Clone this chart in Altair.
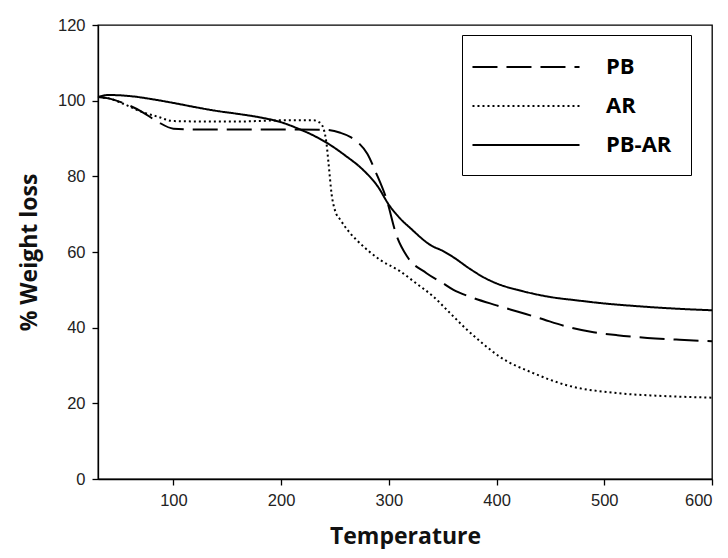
import altair as alt
import pandas as pd

# ---- data ----
pb_temp = [30, 40, 55, 70, 85, 100, 120, 150, 200, 240, 255, 265, 272, 280, 288, 298, 307, 317, 335, 350, 360, 375, 400, 420, 440, 465, 490, 512, 540, 570, 600]
pb_wl = [101.0, 100.6, 99.2, 97.2, 94.5, 92.6, 92.4, 92.4, 92.4, 92.3, 91.5, 90.3, 88.8, 86.0, 81.0, 73.8, 64.5, 58.8, 54.4, 51.8, 50.0, 48.2, 45.9, 44.2, 42.5, 40.3, 38.8, 38.0, 37.3, 36.8, 36.4]

ar_temp = [30, 40, 55, 70, 85, 100, 130, 160, 200, 230, 236, 240, 242, 244, 247, 250, 255, 264, 270, 292, 310, 325, 341, 357, 372, 388, 403, 434, 465, 512, 550, 600]
ar_wl = [101.0, 100.6, 99.0, 97.1, 95.8, 94.6, 94.5, 94.5, 94.8, 94.8, 94.2, 92.0, 89.0, 83.5, 75.0, 71.0, 68.5, 65.0, 63.2, 57.9, 55.0, 51.8, 48.3, 43.8, 39.6, 35.6, 32.3, 28.0, 24.8, 22.7, 22.0, 21.5]

pbar_temp = [30, 40, 60, 80, 100, 120, 140, 160, 180, 200, 215, 230, 245, 260, 275, 290, 300, 310, 320, 340, 350, 360, 375, 390, 400, 425, 450, 475, 500, 525, 550, 575, 600]
pbar_wl = [101.0, 101.5, 101.2, 100.4, 99.4, 98.3, 97.3, 96.5, 95.6, 94.3, 92.7, 90.8, 88.4, 85.4, 82.0, 77.2, 72.5, 69.0, 66.3, 61.6, 60.3, 58.6, 55.6, 53.0, 51.7, 49.6, 48.1, 47.2, 46.4, 45.8, 45.3, 44.9, 44.6]

series_names = ["PB", "AR", "PB-AR"]
x_ticks = [100, 200, 300, 400, 500, 600]
y_ticks = [0, 20, 40, 60, 80, 100, 120]

rows = []
for name, xs, ys in [("PB", pb_temp, pb_wl), ("AR", ar_temp, ar_wl), ("PB-AR", pbar_temp, pbar_wl)]:
    for i, (x, y) in enumerate(zip(xs, ys)):
        rows.append({"Sample": name, "Temperature": x, "Weight": y, "order": i})
df = pd.DataFrame(rows)

chart = alt.Chart(df).mark_line(color="black", strokeWidth=2, interpolate="monotone").encode(
    x=alt.X("Temperature:Q",
            scale=alt.Scale(domain=[30, 600], nice=False, zero=False),
            axis=alt.Axis(values=x_ticks, title="Temperature", grid=False,
                          titleY=64, titleBaseline="alphabetic")),
    y=alt.Y("Weight:Q",
            scale=alt.Scale(domain=[0, 120], nice=False),
            axis=alt.Axis(values=y_ticks, title="% Weight loss", grid=False,
                          titleX=-62, titleBaseline="alphabetic")),
    strokeDash=alt.StrokeDash(
        "Sample:N",
        scale=alt.Scale(domain=series_names, range=[[25, 9], [2, 3], [1, 0]]),
        legend=alt.Legend(
            title=None, orient="none", legendX=364, legendY=10,
            symbolType="M-4.46,0H4.46", symbolSize=576, symbolStrokeWidth=2,
            symbolStrokeColor="black", symbolOffset=32,
            labelFont="Open Sans", labelFontWeight="bold",
            labelFontSize=22, labelColor="black", labelOffset=67,
            strokeColor="black", padding=19, rowPadding=15,
        ),
    ),
    order="order:Q",
).properties(
    width=614, height=454,
    autosize=alt.AutoSizeParams(type="none"),
    padding={"left": 90, "top": 17, "right": 8, "bottom": 70},
).configure_view(
    stroke="black", strokeWidth=1.3
).configure_axis(
    domainColor="black", domainWidth=1.3, tickColor="black", tickSize=6, tickWidth=1.3,
    labelFont="Liberation Sans", labelFontSize=16.5, labelColor="#222", labelPadding=7,
    titleFont="Open Sans", titleFontWeight="bold", titleFontSize=23, titleColor="#111",
)

chart.save("out.html", embed_options={"renderer": "svg", "actions": False})
